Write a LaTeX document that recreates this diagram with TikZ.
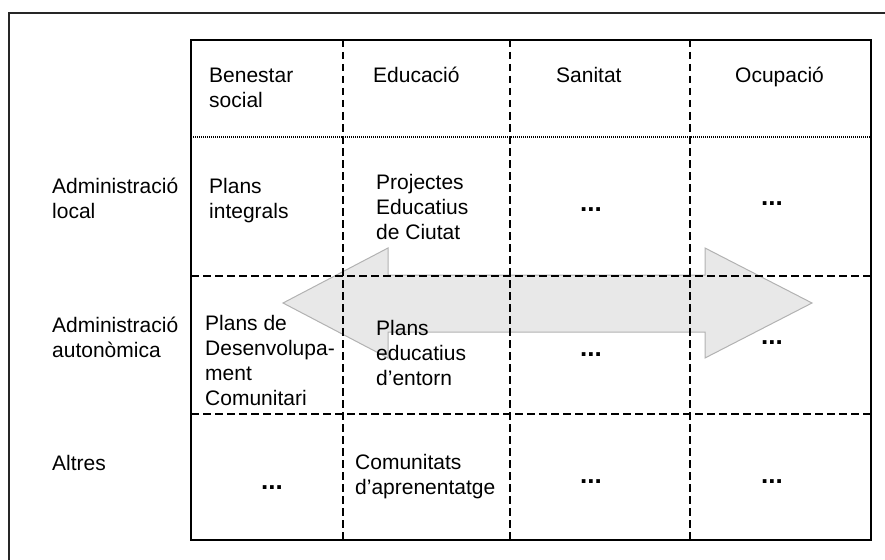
\documentclass[tikz,border=0pt]{standalone}
\usepackage{fontspec}
\setmainfont{Liberation Sans}
\usepackage{tikz}

\begin{document}
\begin{tikzpicture}[x=1pt, y=-1pt,
    txt/.style={anchor=base west, align=left, inner sep=0pt, font=\fontsize{21}{25}\selectfont},
    dots/.style={inner sep=0pt, font=\fontsize{26}{26}\selectfont\bfseries},
    sep/.style={line width=2.6pt, dash pattern=on 7.5pt off 4.5pt},
    fine/.style={line width=1.8pt, dash pattern=on 1.2pt off 0.8pt},
    bigarrow/.style={fill=black!9, draw=black!30, line width=1pt}]
			\useasboundingbox (0,0) rectangle (885,559);
			\draw[line width=1.8pt, black!85] (9,13) rectangle (900,580);
			
			% double arrow behind the table
			\draw[bigarrow] (283,303) -- (388,248) -- (388,275) -- (705,275) -- (705,248) -- (812,303)
				-- (705,358) -- (705,332) -- (388,332) -- (388,358) -- cycle;
			
			% table
			\draw[fine] (191,137) -- (871,137);
			\draw[sep] (191,276) -- (871,276);
			\draw[sep] (191,414) -- (871,414);
			\draw[sep] (343,40) -- (343,540);
			\draw[sep] (510,40) -- (510,540);
			\draw[sep] (690,40) -- (690,540);
			\draw[line width=1.8pt] (191,40) rectangle (871,540);
			
			% headers (base = last line)
			\node[txt] (benestar) at (209,108) {Benestar\\social};
			\node[txt] (educacio) at (373,83) {Educació};
			\node[txt] (sanitat) at (556,83) {Sanitat};
			\node[txt] (ocupacio) at (735,83) {Ocupació};
			
			\node[txt] (local) at (52,218) {Administració\\local};
			\node[txt] (autonomica) at (52,357) {Administració\\autonòmica};
			\node[txt] (altres) at (52,470) {Altres};
			
			\node[txt] (integrals) at (209,218) {Plans\\integrals};
			\node[txt] (projectes) at (376,239) {Projectes\\Educatius\\de Ciutat};
			\node[dots] (sanA) at (591,210) {...};
			\node[dots] (ocuA) at (772,204) {...};
			
			\node[txt] (comunitari) at (205,405) {Plans de\\Desenvolupa-\\ment\\Comunitari};
			\node[txt] (entorn) at (376,385) {Plans\\educatius\\d’entorn};
			\node[dots] (sanB) at (591,355) {...};
			\node[dots] (ocuB) at (772,343) {...};
			
			\node[dots] (benC) at (272,488) {...};
			\node[txt] (aprenentatge) at (355,494) {Comunitats\\d’aprenentatge};
			\node[dots] (sanC) at (591,482) {...};
			\node[dots] (ocuC) at (772,482) {...};
		\end{tikzpicture}
\end{document}
